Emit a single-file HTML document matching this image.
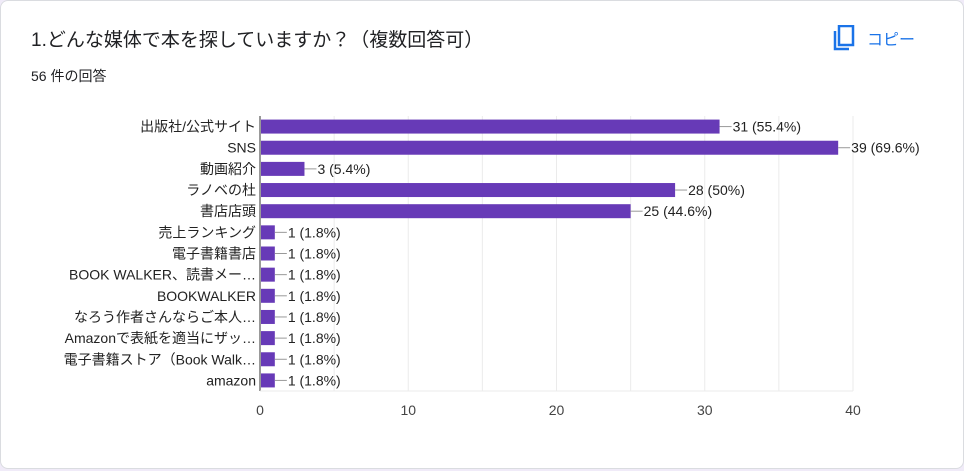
<!DOCTYPE html>
<html><head><meta charset="utf-8"><style>
body{margin:0;background:#f0ebf8;width:964px;height:470px;overflow:hidden;font-family:"Liberation Sans","Noto Sans CJK JP",sans-serif;}
#card{position:absolute;left:0;top:0;width:962px;height:467px;background:#fff;border:1px solid #dadce0;border-radius:8px;}
#title{position:absolute;left:30px;top:24px;font-size:19px;color:#202124;}
#count{position:absolute;left:30px;top:65px;font-size:14px;color:#202124;}
#copy{position:absolute;left:832px;top:24px;font-size:16px;color:#1a73e8;display:flex;align-items:center;gap:12px;}
svg text{font-family:"Liberation Sans","Noto Sans CJK JP",sans-serif;}
</style></head><body>
<div id="card">
<div id="title">1.どんな媒体で本を探していますか？（複数回答可）</div>
<div id="count">56 件の回答</div>
<div id="copy"><svg width="22" height="26" viewBox="0 0 22 26"><rect x="6" y="1" width="14" height="19" fill="none" stroke="#1a73e8" stroke-width="2.5"/><path d="M2 6 V24 H16" fill="none" stroke="#1a73e8" stroke-width="2.5"/></svg><span>コピー</span></div>
<svg id="chart" width="964" height="470" style="position:absolute;left:0;top:0"></svg>
</div>
<script>
const categories=["出版社/公式サイト","SNS","動画紹介","ラノベの杜","書店店頭","売上ランキング","電子書籍書店","BOOK WALKER、読書メー…","BOOKWALKER","なろう作者さんならご本人…","Amazonで表紙を適当にザッ…","電子書籍ストア（Book Walk…","amazon"];
const values=[31,39,3,28,25,1,1,1,1,1,1,1,1];
const valueLabels=["31 (55.4%)","39 (69.6%)","3 (5.4%)","28 (50%)","25 (44.6%)","1 (1.8%)","1 (1.8%)","1 (1.8%)","1 (1.8%)","1 (1.8%)","1 (1.8%)","1 (1.8%)","1 (1.8%)"];
const ticks=[0,10,20,30,40];
const svg=document.getElementById('chart');
const NS='http://www.w3.org/2000/svg';
const x0=259,x1=852,yTop=115,yBottom=390;
const xs=v=>x0+(x1-x0)*v/40;
const step=(yBottom-yTop)/categories.length;
function mk(t,a){const e=document.createElementNS(NS,t);for(const k in a)e.setAttribute(k,a[k]);svg.appendChild(e);return e;}
for(let v=0;v<=40;v+=5){const g=mk('line',{x1:xs(v),x2:xs(v),y1:yTop,y2:yBottom,stroke:v===0?'#333':'#ebebeb','stroke-width':1});

}
const base=mk('line',{x1:x0,x2:x1,y1:yBottom,y2:yBottom,stroke:'#ebebeb'});


ticks.forEach(t=>{const e=mk('text',{x:xs(t),y:414,'text-anchor':'middle','font-size':14,fill:'#444'});e.textContent=t;

});
categories.forEach((c,i)=>{const cy=yTop+step*(i+0.5);
const l=mk('text',{x:255,y:cy+5,'text-anchor':'end','font-size':14,fill:'#222'});l.textContent=c;


const b=mk('rect',{x:x0+1,y:cy-7,width:xs(values[i])-x0-1,height:14,fill:'#673ab7'});


const ld=mk('line',{x1:xs(values[i]),x2:xs(values[i])+12,y1:cy,y2:cy,stroke:'#999'});


const t=mk('text',{x:xs(values[i])+13,y:cy+5,'font-size':14,fill:'#222'});t.textContent=valueLabels[i];

});
</script>
</body></html>
